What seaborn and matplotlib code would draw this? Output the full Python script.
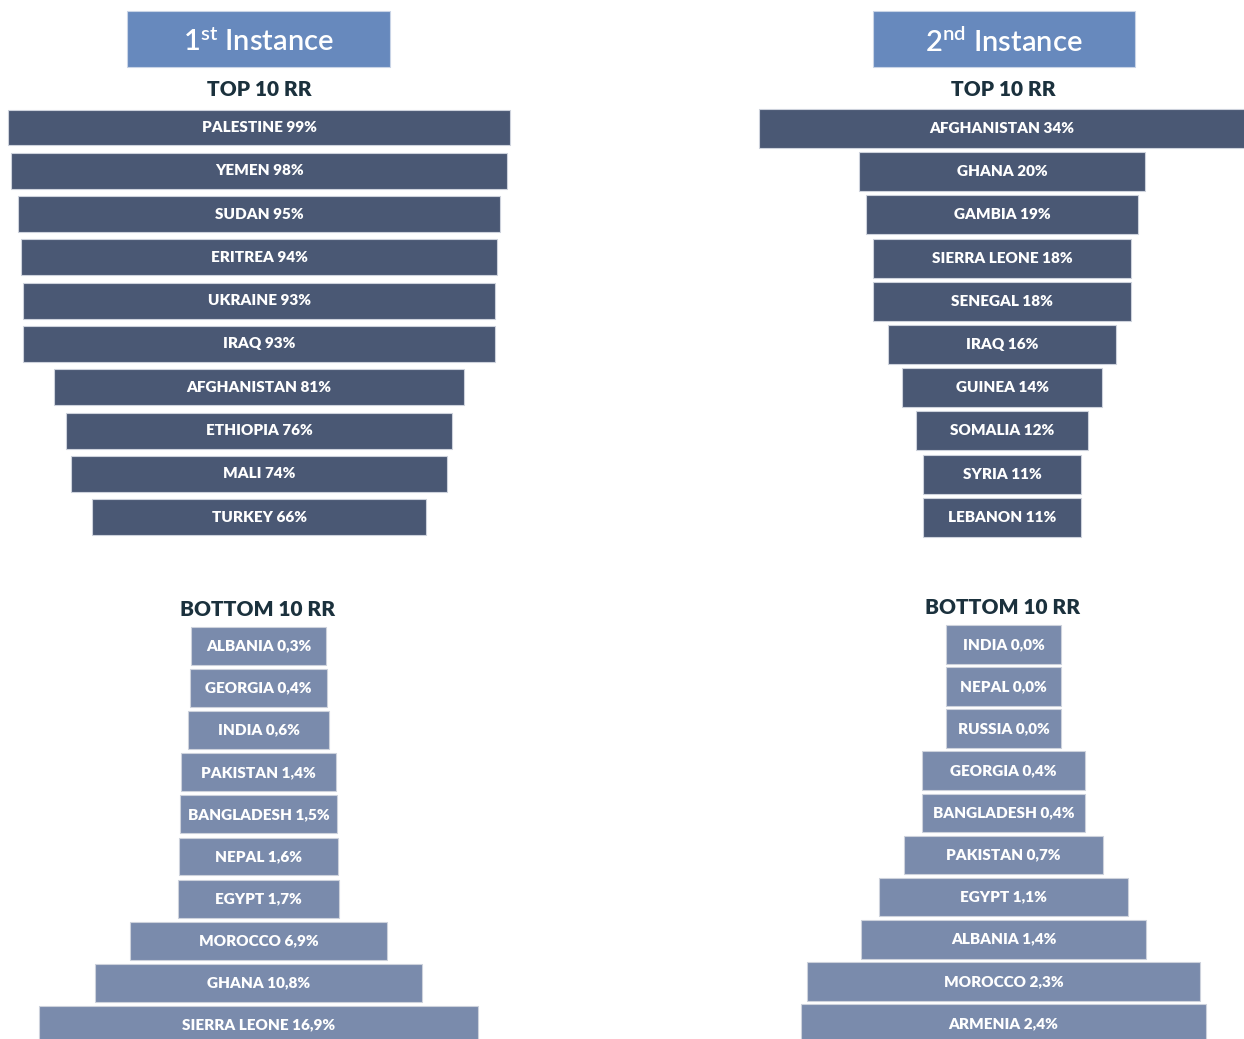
import matplotlib
matplotlib.use("Agg")
import matplotlib.pyplot as plt
from matplotlib.patches import Rectangle
import seaborn as sns
import pandas as pd

sns.set_theme(style="white")
plt.rcParams["font.family"] = ["Lato", "DejaVu Sans"]
plt.rcParams["mathtext.fontset"] = "custom"
plt.rcParams["mathtext.rm"] = "Lato:semibold"
plt.rcParams["mathtext.it"] = "Lato:italic"
plt.rcParams["mathtext.bf"] = "Lato:bold"

# ---- data -------------------------------------------------------------
top1_countries = ["PALESTINE", "YEMEN", "SUDAN", "ERITREA", "UKRAINE",
                  "IRAQ", "AFGHANISTAN", "ETHIOPIA", "MALI", "TURKEY"]
top1_rates = [99, 98, 95, 94, 93, 93, 81, 76, 74, 66]

top2_countries = ["AFGHANISTAN", "GHANA", "GAMBIA", "SIERRA LEONE", "SENEGAL",
                  "IRAQ", "GUINEA", "SOMALIA", "SYRIA", "LEBANON"]
top2_rates = [34, 20, 19, 18, 18, 16, 14, 12, 11, 11]

bottom1_countries = ["ALBANIA", "GEORGIA", "INDIA", "PAKISTAN", "BANGLADESH",
                     "NEPAL", "EGYPT", "MOROCCO", "GHANA", "SIERRA LEONE"]
bottom1_rates = [0.3, 0.4, 0.6, 1.4, 1.5, 1.6, 1.7, 6.9, 10.8, 16.9]

bottom2_countries = ["INDIA", "NEPAL", "RUSSIA", "GEORGIA", "BANGLADESH",
                     "PAKISTAN", "EGYPT", "ALBANIA", "MOROCCO", "ARMENIA"]
bottom2_rates = [0.0, 0.0, 0.0, 0.4, 0.4, 0.7, 1.1, 1.4, 2.3, 2.4]

# ---- styling ----------------------------------------------------------
W, H = 1244, 1039
DARK_BAR = "#4a5874"
LIGHT_BAR = "#7a8bac"
HEADER_BOX = "#6789bd"
HEADING = "#1b313d"
EDGE = "#cdd2dc"

fig = plt.figure(figsize=(W / 100, H / 100), dpi=100)


def funnel(countries, rates, fmt, color, px_left, px_right, cx, px_per_unit,
           first_y, pitch, bar_frac, baseline=0.0, fontsize=11):
    """Centered funnel: bar length = rate + baseline, scaled px_per_unit."""
    top = first_y - pitch / 2
    height = pitch * len(countries)
    ax = fig.add_axes([px_left / W, 1 - (top + height) / H,
                       (px_right - px_left) / W, height / H])
    df = pd.DataFrame({"country": countries,
                       "length": [r + baseline for r in rates]})
    sns.barplot(data=df, x="length", y="country", orient="h", color=color,
                saturation=1, width=bar_frac, edgecolor=EDGE, linewidth=0.8,
                ax=ax)
    # center each bar on zero
    for p in ax.patches:
        p.set_x(-p.get_width() / 2)
    ax.set_xlim((px_left - cx) / px_per_unit, (px_right - cx) / px_per_unit)
    ax.set_ylim(len(countries) - 0.5, -0.5)
    for i, (c, r) in enumerate(zip(countries, rates)):
        ax.text(0, i, f"{c} {fmt(r)}", ha="center", va="center",
                color="white", fontsize=fontsize, fontweight="heavy")
    ax.axis("off")
    return ax


def pct_int(v):
    return f"{v:.0f}%"


def pct_dec(v):
    return f"{v:.1f}%".replace(".", ",")


funnel(top1_countries, top1_rates, pct_int, DARK_BAR, 0, 622, 259, 5.07,
       127.5, 43.3, 0.83)
funnel(top2_countries, top2_rates, pct_int, DARK_BAR, 622, 1244, 1002, 14.3,
       128.5, 43.2, 0.9)
funnel(bottom1_countries, bottom1_rates, pct_dec, LIGHT_BAR, 0, 622, 258.5,
       18.3, 646, 42.1, 0.9, baseline=7.1)
funnel(bottom2_countries, bottom2_rates, pct_dec, LIGHT_BAR, 622, 1244, 1003.5,
       121, 644.5, 42.1, 0.92, baseline=0.95)

# ---- header boxes and section headings --------------------------------
for (x0, x1, label) in [(127, 390, r"1$^{\mathrm{st}}$ Instance"),
                        (873, 1135, r"2$^{\mathrm{nd}}$ Instance")]:
    fig.patches.append(Rectangle((x0 / W, 1 - 67 / H), (x1 - x0) / W, 56 / H,
                                 transform=fig.transFigure,
                                 facecolor=HEADER_BOX, edgecolor="#c9d4e6",
                                 linewidth=0.8))
    fig.text((x0 + x1) / 2 / W, 1 - 42 / H, label, ha="center", va="center",
             color="white", fontsize=21, fontweight="semibold")

for (x, y, label) in [(259, 89, "TOP 10 RR"), (1003, 90, "TOP 10 RR"),
                      (258, 609, "BOTTOM 10 RR"), (1003, 607, "BOTTOM 10 RR")]:
    fig.text(x / W, 1 - y / H, label, ha="center", va="center",
             color=HEADING, fontsize=15, fontweight="heavy")

fig.savefig("out.png", dpi=100)
